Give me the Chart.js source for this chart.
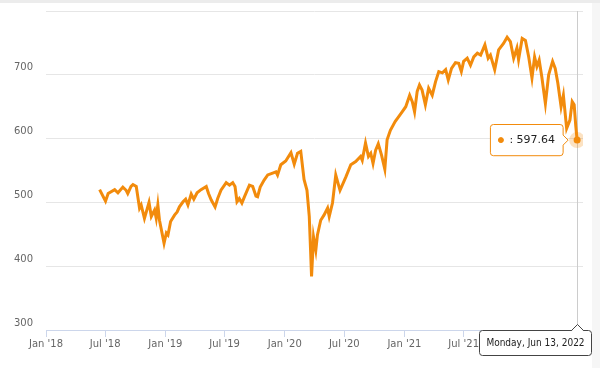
<!DOCTYPE html>
<html>
<head>
<meta charset="utf-8">
<script src="https://cdn.jsdelivr.net/npm/chart.js@4.4.1/dist/chart.umd.min.js"></script>
<style>
  html, body { margin: 0; padding: 0; background: #fff; }
  body { width: 600px; height: 368px; overflow: hidden; }
  #wrap { position: relative; width: 600px; height: 365px; border-top: 3px solid #ececec; }
</style>
</head>
<body>
<div id="wrap"><canvas id="priceChart"></canvas></div>
<script>
// ==========================
// Data
// ==========================
const dates = [
  '2018-06-14','2018-07-02','2018-07-10','2018-07-30','2018-08-09','2018-08-24','2018-09-03','2018-09-08',
  '2018-09-18','2018-09-24','2018-10-04','2018-10-14','2018-10-19','2018-10-29','2018-11-12','2018-11-19',
  '2018-11-29','2018-12-04','2018-12-09','2018-12-14','2018-12-28','2019-01-04','2019-01-09','2019-01-17',
  '2019-01-29','2019-02-06','2019-02-13','2019-02-24','2019-03-04','2019-03-11','2019-03-21','2019-03-29',
  '2019-04-08','2019-04-20','2019-05-06','2019-05-13','2019-05-21','2019-06-02','2019-06-10','2019-06-20',
  '2019-07-06','2019-07-16','2019-07-26','2019-08-02','2019-08-08','2019-08-15','2019-08-23','2019-08-31',
  '2019-09-15','2019-09-25','2019-10-05','2019-10-10','2019-10-18','2019-10-30','2019-11-10','2019-11-25',
  '2019-12-05','2019-12-10','2019-12-20','2020-01-04','2020-01-20','2020-01-30','2020-02-09','2020-02-19',
  '2020-02-29','2020-03-09','2020-03-16','2020-03-20','2020-03-23','2020-03-29','2020-04-05','2020-04-10',
  '2020-04-20','2020-04-30','2020-05-11','2020-05-16','2020-05-26','2020-06-05','2020-06-18','2020-07-06',
  '2020-07-21','2020-08-05','2020-08-20','2020-08-25','2020-09-04','2020-09-13','2020-09-20','2020-09-27',
  '2020-10-05','2020-10-13','2020-10-23','2020-11-02','2020-11-09','2020-11-19','2020-12-04','2020-12-14',
  '2020-12-25','2021-01-05','2021-01-17','2021-01-25','2021-02-01','2021-02-09','2021-02-16','2021-02-24',
  '2021-03-06','2021-03-16','2021-03-27','2021-04-06','2021-04-16','2021-04-27','2021-05-07','2021-05-15',
  '2021-05-25','2021-06-06','2021-06-16','2021-06-24','2021-07-01','2021-07-12','2021-07-22','2021-08-01',
  '2021-08-12','2021-08-22','2021-09-04','2021-09-14','2021-09-21','2021-10-04','2021-10-16','2021-10-31',
  '2021-11-11','2021-11-21','2021-12-01','2021-12-11','2021-12-16','2021-12-27','2022-01-06','2022-01-16',
  '2022-01-26','2022-02-03','2022-02-10','2022-02-17','2022-02-25','2022-03-08','2022-03-18','2022-03-30',
  '2022-04-07','2022-04-15','2022-04-25','2022-05-02','2022-05-12','2022-05-22','2022-05-29','2022-06-04',
  '2022-06-09','2022-06-13'
];

const closes = [
  520, 502, 514, 520, 515, 524, 519, 514,
  525, 528, 525, 491, 496, 475, 500, 478,
  488, 475, 496, 472, 436, 452, 449, 470,
  480, 485, 493, 501, 505, 496, 513, 505,
  515, 520, 525, 514, 504, 493, 506, 519,
  531, 527, 531, 525, 501, 506, 499, 509,
  527, 525, 510, 509, 524, 535, 543, 546,
  548, 543, 559, 565, 578, 560, 577, 580,
  536, 519, 478, 425, 384, 446, 425, 449,
  472, 480, 491, 478, 499, 543, 519, 540,
  559, 564, 572, 566, 593, 572, 577, 561,
  582, 592, 574, 552, 598, 613, 627, 634,
  642, 650, 668, 658, 642, 674, 684, 676,
  653, 679, 668, 689, 705, 703, 708, 692,
  710, 719, 718, 705, 721, 726, 715, 728,
  734, 731, 747, 726, 731, 708, 739, 749,
  759, 752, 726, 742, 724, 757, 754, 728,
  695, 728, 713, 723, 697, 655, 700, 721,
  710, 687, 650, 668, 616, 629, 658, 653,
  619, 597.64
];

const tickDates = ['2018-01-01', '2018-07-01', '2019-01-01', '2019-07-01', '2020-01-01',
  '2020-07-01', '2021-01-01', '2021-07-01', '2022-01-01'];
const tickLabels = ["Jan '18", "Jul '18", "Jan '19", "Jul '19", "Jan '20",
  "Jul '20", "Jan '21", "Jul '21", "Jan '22"];
const yTicks = [300, 400, 500, 600, 700, 800];
const hoverDateLabel = 'Monday, Jun 13, 2022';

// ==========================
// Helpers
// ==========================
const ORANGE = '#f28b0c';
const FONT = "'DejaVu Sans', sans-serif";
const startDay = Date.parse('2018-01-01');
const dayOf = s => (Date.parse(s) - startDay) / 864e5;

const points = dates.map((d, i) => ({ x: dayOf(d), y: closes[i] }));
const lastIndex = points.length - 1;

function roundRect(ctx, x, y, w, h, r) {
  ctx.moveTo(x + r, y);
  ctx.lineTo(x + w - r, y);
  ctx.quadraticCurveTo(x + w, y, x + w, y + r);
  ctx.lineTo(x + w, y + h - r);
  ctx.quadraticCurveTo(x + w, y + h, x + w - r, y + h);
  ctx.lineTo(x + r, y + h);
  ctx.quadraticCurveTo(x, y + h, x, y + h - r);
  ctx.lineTo(x, y + r);
  ctx.quadraticCurveTo(x, y, x + r, y);
}

// page strip on the right edge
const backgroundPlugin = {
  id: 'pageBg',
  beforeDraw(chart) {
    const { ctx } = chart;
    ctx.save();
    ctx.fillStyle = '#f6f6f6';
    ctx.fillRect(chart.width - 8, 0, 8, chart.height);
    ctx.restore();
  }
};

// crosshair + date label under the x axis
const crosshairPlugin = {
  id: 'crosshair',
  beforeDatasetsDraw(chart) {
    const { ctx, chartArea } = chart;
    const x = Math.round(chart.scales.x.getPixelForValue(points[lastIndex].x)) + 0.5;
    ctx.save();
    ctx.strokeStyle = '#cccccc';
    ctx.lineWidth = 1;
    ctx.beginPath();
    ctx.moveTo(x, chartArea.top);
    ctx.lineTo(x, chartArea.bottom);
    ctx.stroke();
    ctx.restore();
  },
  afterDraw(chart) {
    const { ctx, chartArea } = chart;
    const x = Math.round(chart.scales.x.getPixelForValue(points[lastIndex].x)) + 0.5;
    ctx.save();
    ctx.font = "10px 'DejaVu Sans Condensed', 'DejaVu Sans', sans-serif";
    const tw = ctx.measureText(hoverDateLabel).width;
    const w = Math.round(tw + 14), h = 25;
    const left = Math.min(x - w / 2, chart.width - 8.5 - w);
    const top = chartArea.bottom + 0.5;
    ctx.beginPath();
    roundRect(ctx, left, top, w, h, 3);
    ctx.fillStyle = 'rgba(255,255,255,0.97)';
    ctx.fill();
    ctx.strokeStyle = '#444';
    ctx.lineWidth = 1;
    ctx.stroke();
    // caret
    ctx.beginPath();
    ctx.moveTo(x - 6, top + 0.5);
    ctx.lineTo(x, top - 6);
    ctx.lineTo(x + 6, top + 0.5);
    ctx.fillStyle = '#fff';
    ctx.fill();
    ctx.beginPath();
    ctx.moveTo(x - 6, top);
    ctx.lineTo(x, top - 6);
    ctx.lineTo(x + 6, top);
    ctx.stroke();
    ctx.fillStyle = '#222';
    ctx.textAlign = 'center';
    ctx.textBaseline = 'middle';
    ctx.fillText(hoverDateLabel, left + w / 2, top + h / 2 + 0.5);
    ctx.restore();
  }
};

// ==========================
// Chart
// ==========================
const ctx = document.getElementById('priceChart').getContext('2d');
const priceChart = new Chart(ctx, {
  type: 'line',
  data: {
    datasets: [{
      data: points,
      borderColor: ORANGE,
      backgroundColor: ORANGE,
      borderWidth: 3,
      pointRadius: 0,
      pointHoverRadius: 3.5,
      pointHoverBorderWidth: 9,
      pointHoverBackgroundColor: ORANGE,
      pointHoverBorderColor: 'rgba(242,139,12,0.25)',
      tension: 0,
      fill: false
    }]
  },
  options: {
    responsive: true,
    maintainAspectRatio: false,
    animation: false,
    events: [],
    layout: { padding: { left: 14, right: 17, top: 8, bottom: 14 } },
    plugins: {
      legend: { display: false },
      tooltip: {
        enabled: true,
        backgroundColor: 'rgba(255,255,255,0.96)',
        borderColor: ORANGE,
        borderWidth: 1,
        cornerRadius: 3,
        caretSize: 5,
        caretPadding: 9,
        xAlign: 'right',
        yAlign: 'center',
        padding: { x: 8, y: 9 },
        bodyColor: '#222',
        bodyFont: { family: FONT, size: 11 },
        displayColors: true,
        usePointStyle: true,
        boxWidth: 5,
        boxHeight: 5,
        boxPadding: 4,
        callbacks: {
          title: () => [],
          label: item => ': ' + item.parsed.y.toFixed(2),
          labelColor: () => ({ borderColor: ORANGE, backgroundColor: ORANGE }),
          labelPointStyle: () => ({ pointStyle: 'circle', rotation: 0 })
        }
      }
    },
    scales: {
      x: {
        type: 'linear',
        min: 0,
        max: 1642,
        afterBuildTicks: scale => {
          scale.ticks = tickDates.map(d => ({ value: dayOf(d) }));
        },
        afterFit: scale => { scale.height = 24; },
        ticks: {
          autoSkip: false,
          maxRotation: 0,
          padding: 1,
          color: '#666',
          font: { family: FONT, size: 10 },
          callback: (v, i) => tickLabels[i]
        },
        grid: { drawOnChartArea: false, color: '#ccd6eb', tickLength: 7 },
        border: { color: '#ccd6eb' }
      },
      y: {
        min: 300,
        max: 800,
        afterBuildTicks: scale => {
          scale.ticks = yTicks.map(v => ({ value: v }));
        },
        afterFit: scale => { scale.width = 32; },
        ticks: {
          crossAlign: 'far',
          labelOffset: -7,
          padding: 0,
          color: '#666',
          font: { family: FONT, size: 10 },
          callback: v => (v === 800 ? '' : v)
        },
        grid: { color: '#e6e6e6', drawTicks: false },
        border: { display: false }
      }
    }
  },
  plugins: [backgroundPlugin, crosshairPlugin]
});

// show the hovered last point with its tooltip
priceChart.setActiveElements([{ datasetIndex: 0, index: lastIndex }]);
priceChart.tooltip.setActiveElements([{ datasetIndex: 0, index: lastIndex }], { x: 0, y: 0 });
priceChart.update();
</script>
</body>
</html>
